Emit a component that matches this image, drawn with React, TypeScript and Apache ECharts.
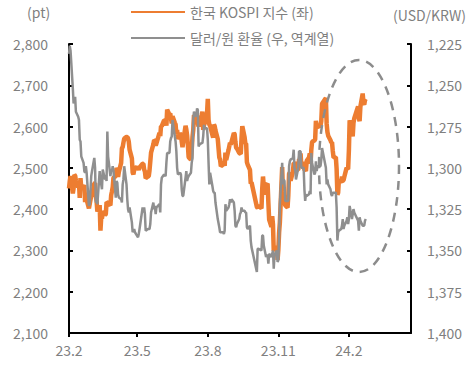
import React, { useEffect, useRef } from "react";
import * as echarts from "echarts";

// date, KOSPI (pt), USD/KRW
const dates: string[] = [
  "2023-02-01","2023-02-02","2023-02-03","2023-02-06","2023-02-07","2023-02-08","2023-02-09","2023-02-10","2023-02-13","2023-02-14",
  "2023-02-15","2023-02-16","2023-02-17","2023-02-20","2023-02-21","2023-02-22","2023-02-23","2023-02-24","2023-02-27","2023-02-28",
  "2023-03-02","2023-03-03","2023-03-06","2023-03-07","2023-03-08","2023-03-09","2023-03-10","2023-03-13","2023-03-14","2023-03-15",
  "2023-03-16","2023-03-17","2023-03-20","2023-03-21","2023-03-22","2023-03-23","2023-03-24","2023-03-27","2023-03-28","2023-03-29",
  "2023-03-30","2023-03-31","2023-04-03","2023-04-04","2023-04-05","2023-04-06","2023-04-07","2023-04-10","2023-04-11","2023-04-12",
  "2023-04-13","2023-04-14","2023-04-17","2023-04-18","2023-04-19","2023-04-20","2023-04-21","2023-04-24","2023-04-25","2023-04-26",
  "2023-04-27","2023-04-28","2023-05-02","2023-05-03","2023-05-04","2023-05-08","2023-05-09","2023-05-10","2023-05-11","2023-05-12",
  "2023-05-15","2023-05-16","2023-05-17","2023-05-18","2023-05-19","2023-05-22","2023-05-23","2023-05-24","2023-05-25","2023-05-26",
  "2023-05-30","2023-05-31","2023-06-01","2023-06-02","2023-06-05","2023-06-07","2023-06-08","2023-06-09","2023-06-12","2023-06-13",
  "2023-06-14","2023-06-15","2023-06-16","2023-06-19","2023-06-20","2023-06-21","2023-06-22","2023-06-23","2023-06-26","2023-06-27",
  "2023-06-28","2023-06-29","2023-06-30","2023-07-03","2023-07-04","2023-07-05","2023-07-06","2023-07-07","2023-07-10","2023-07-11",
  "2023-07-12","2023-07-13","2023-07-14","2023-07-17","2023-07-18","2023-07-19","2023-07-20","2023-07-21","2023-07-24","2023-07-25",
  "2023-07-26","2023-07-27","2023-07-28","2023-07-31","2023-08-01","2023-08-02","2023-08-03","2023-08-04","2023-08-07","2023-08-08",
  "2023-08-09","2023-08-10","2023-08-11","2023-08-14","2023-08-16","2023-08-17","2023-08-18","2023-08-21","2023-08-22","2023-08-23",
  "2023-08-24","2023-08-25","2023-08-28","2023-08-29","2023-08-30","2023-08-31","2023-09-01","2023-09-04","2023-09-05","2023-09-06",
  "2023-09-07","2023-09-08","2023-09-11","2023-09-12","2023-09-13","2023-09-14","2023-09-15","2023-09-18","2023-09-19","2023-09-20",
  "2023-09-21","2023-09-22","2023-09-25","2023-09-26","2023-09-27","2023-10-04","2023-10-05","2023-10-06","2023-10-10","2023-10-11",
  "2023-10-12","2023-10-13","2023-10-16","2023-10-17","2023-10-18","2023-10-19","2023-10-20","2023-10-23","2023-10-24","2023-10-25",
  "2023-10-26","2023-10-27","2023-10-30","2023-10-31","2023-11-01","2023-11-02","2023-11-03","2023-11-06","2023-11-07","2023-11-08",
  "2023-11-09","2023-11-10","2023-11-13","2023-11-14","2023-11-15","2023-11-16","2023-11-17","2023-11-20","2023-11-21","2023-11-22",
  "2023-11-23","2023-11-24","2023-11-27","2023-11-28","2023-11-29","2023-11-30","2023-12-01","2023-12-04","2023-12-05","2023-12-06",
  "2023-12-07","2023-12-08","2023-12-11","2023-12-12","2023-12-13","2023-12-14","2023-12-15","2023-12-18","2023-12-19","2023-12-20",
  "2023-12-21","2023-12-22","2023-12-26","2023-12-27","2023-12-28","2024-01-02","2024-01-03","2024-01-04","2024-01-05","2024-01-08",
  "2024-01-09","2024-01-10","2024-01-11","2024-01-12","2024-01-15","2024-01-16","2024-01-17","2024-01-18","2024-01-19","2024-01-22",
  "2024-01-23","2024-01-24","2024-01-25","2024-01-26","2024-01-29","2024-01-30","2024-01-31","2024-02-01","2024-02-02","2024-02-05",
  "2024-02-06","2024-02-07","2024-02-08","2024-02-13","2024-02-14","2024-02-15","2024-02-16","2024-02-19","2024-02-20","2024-02-21",
  "2024-02-22","2024-02-23",
];

const kospi: number[] = [
  2450,2468,2480,2438,2451,2483,2481,2469,2453,2465,
  2427,2475,2451,2455,2458,2417,2439,2423,2402,2412,
  2432,2432,2462,2463,2431,2419,2394,2410,2348,2379,
  2377,2395,2386,2388,2417,2416,2414,2409,2434,2443,
  2453,2476,2480,2500,2495,2478,2490,2512,2548,2550,
  2561,2571,2575,2575,2571,2563,2544,2523,2489,2484,
  2495,2501,2500,2495,2501,2510,2510,2496,2491,2475,
  2479,2480,2494,2515,2537,2557,2567,2566,2554,2559,
  2585,2577,2601,2601,2615,2615,2602,2641,2629,2632,
  2619,2608,2625,2609,2605,2582,2592,2570,2582,2581,
  2564,2550,2564,2602,2593,2579,2556,2526,2520,2542,
  2574,2591,2628,2619,2607,2608,2600,2609,2628,2636,
  2592,2603,2608,2632,2667,2616,2605,2602,2580,2573,
  2605,2601,2591,2570,2525,2520,2504,2508,2516,2505,
  2537,2519,2543,2552,2561,2556,2563,2584,2582,2563,
  2548,2547,2536,2535,2534,2572,2601,2574,2559,2559,
  2514,2508,2495,2462,2465,2405,2403,2408,2402,2450,
  2479,2456,2436,2460,2462,2415,2375,2357,2383,2363,
  2299,2302,2310,2277,2301,2343,2368,2502,2443,2421,
  2427,2409,2404,2433,2486,2488,2469,2491,2511,2511,
  2514,2496,2495,2521,2520,2535,2505,2514,2495,2495,
  2492,2517,2525,2535,2510,2544,2563,2566,2569,2614,
  2600,2599,2602,2613,2655,2669,2607,2587,2578,2567,
  2561,2562,2541,2525,2526,2497,2435,2440,2472,2464,
  2479,2469,2470,2478,2500,2498,2497,2542,2615,2591,
  2576,2609,2620,2649,2620,2613,2648,2680,2657,2653,
  2664,2667,
];

const usdkrw: number[] = [
  1231,1226,1229,1252,1261,1259,1257,1266,1269,1271,
  1283,1284,1293,1297,1302,1303,1299,1303,1323,1322,
  1305,1302,1294,1300,1321,1320,1322,1302,1308,1310,
  1313,1301,1307,1306,1308,1278,1293,1305,1301,1302,
  1299,1302,1318,1308,1309,1316,1318,1319,1321,1310,
  1307,1299,1310,1319,1325,1327,1324,1333,1339,1338,
  1337,1339,1342,1340,1337,1324,1327,1324,1328,1338,
  1337,1337,1337,1334,1327,1321,1325,1323,1328,1324,
  1322,1327,1310,1306,1304,1305,1297,1291,1291,1284,
  1282,1281,1271,1281,1284,1290,1300,1304,1303,1304,
  1313,1317,1317,1306,1302,1308,1306,1305,1303,1297,
  1294,1271,1266,1269,1264,1265,1287,1286,1285,1285,
  1281,1274,1276,1276,1283,1297,1310,1303,1311,1314,
  1315,1315,1321,1331,1336,1339,1339,1339,1340,1338,
  1322,1326,1324,1322,1319,1321,1319,1321,1326,1335,
  1336,1334,1331,1328,1327,1324,1326,1326,1327,1327,
  1336,1337,1335,1344,1348,1363,1349,1349,1350,1341,
  1341,1347,1354,1353,1353,1358,1352,1354,1352,1350,
  1361,1353,1350,1357,1356,1342,1322,1297,1310,1307,
  1308,1320,1320,1320,1299,1296,1295,1294,1289,1300,
  1301,1307,1300,1290,1290,1290,1300,1300,1313,1320,
  1316,1317,1316,1314,1316,1291,1297,1304,1303,1296,
  1302,1299,1299,1295,1288,1300,1310,1307,1310,1313,
  1316,1317,1315,1315,1315,1324,1344,1339,1338,1337,
  1335,1331,1337,1335,1332,1330,1334,1331,1323,1331,
  1328,1325,1327,1332,1338,1330,1332,1335,1335,1335,
  1332,1331,
];

const xTickDates: string[] = ["2023-02-01", "2023-05-01", "2023-08-01", "2023-11-01", "2024-02-01"];
const xRange: string[] = ["2023-02-01", "2024-04-22"];
const leftTicks = { min: 2100, max: 2800, interval: 100 };
const rightTicks = { min: 1225, max: 1400, interval: 25 };

const seriesNames = ["한국 KOSPI 지수 (좌)", "달러/원 환율 (우, 역계열)"];

const toTs = (s: string) => {
  const [y, m, d] = s.split("-").map(Number);
  return Date.UTC(y, m - 1, d);
};

export default function App() {
  const ref = useRef<HTMLDivElement>(null);
  useEffect(() => {
    if (!ref.current) return;
    const chart = echarts.init(ref.current, undefined, { renderer: "svg" });
    const font = "'Noto Sans CJK KR', 'Noto Sans', sans-serif";
    const labelColor = "#7f7f7f";
    const tickTs = xTickDates.map(toTs);
    const fmt = (v: number) => v.toLocaleString("en-US");
    chart.setOption({
      animation: false,
      backgroundColor: "#ffffff",
      textStyle: { fontFamily: font },
      grid: { left: 69, right: 63, top: 44, bottom: 45 },
      legend: {
        orient: "vertical",
        left: 125,
        top: 0,
        itemWidth: 54,
        itemHeight: 14,
        itemGap: 12,
        itemStyle: { opacity: 0 },
        textStyle: { color: labelColor, fontSize: 14, fontFamily: font },
        data: seriesNames,
      },
      xAxis: {
        type: "value",
        min: toTs(xRange[0]),
        max: toTs(xRange[1]),
        axisLine: { show: true, lineStyle: { color: "#000", width: 2 } },
        axisTick: { show: true, inside: false, length: 4, lineStyle: { color: "#000", width: 2 }, customValues: tickTs },
        axisLabel: {
          customValues: tickTs,
          color: labelColor,
          fontSize: 14,
          fontFamily: font,
          margin: 10,
          formatter: (v: number) => {
            const d = new Date(v);
            return `${String(d.getUTCFullYear()).slice(2)}.${d.getUTCMonth() + 1}`;
          },
        },
        splitLine: { show: false },
      },
      yAxis: [
        {
          type: "value",
          position: "left",
          min: leftTicks.min,
          max: leftTicks.max,
          interval: leftTicks.interval,
          axisLine: { show: true, lineStyle: { color: "#000", width: 2 } },
          axisTick: { show: true, inside: true, length: 4, lineStyle: { color: "#000", width: 2 } },
          axisLabel: { color: labelColor, fontSize: 14, fontFamily: font, margin: 21, formatter: fmt },
          splitLine: { show: false },
        },
        {
          type: "value",
          position: "right",
          inverse: true,
          min: rightTicks.min,
          max: rightTicks.max,
          interval: rightTicks.interval,
          axisLine: { show: true, lineStyle: { color: "#000", width: 2 } },
          axisTick: { show: true, inside: true, length: 4, lineStyle: { color: "#000", width: 2 } },
          axisLabel: { color: labelColor, fontSize: 14, fontFamily: font, margin: 16, formatter: fmt },
          splitLine: { show: false },
        },
      ],
      series: [
        {
          name: seriesNames[0],
          type: "line",
          yAxisIndex: 0,
          showSymbol: false,
          symbol: "none",
          color: "#ED7D31",
          lineStyle: { color: "#ED7D31", width: 4.5 },
          data: dates.map((d, i) => [toTs(d), kospi[i]]),
          z: 2,
        },
        {
          name: seriesNames[1],
          type: "line",
          yAxisIndex: 1,
          showSymbol: false,
          symbol: "none",
          color: "#8f8f8f",
          lineStyle: { color: "#8f8f8f", width: 2.5 },
          data: dates.map((d, i) => [toTs(d), usdkrw[i]]),
          z: 3,
        },
      ],
      graphic: [
        {
          type: "text",
          left: 27,
          top: 5,
          style: { text: "(pt)", fill: labelColor, fontSize: 14, fontFamily: font },
        },
        {
          type: "text",
          right: 8,
          top: 8,
          style: { text: "(USD/KRW)", fill: labelColor, fontSize: 14, fontFamily: font },
        },
        {
          type: "ellipse",
          shape: { cx: 359, cy: 166, rx: 40, ry: 106 },
          style: { fill: "none", stroke: "#8c8c8c", lineWidth: 2.5, lineDash: [9, 7] },
          z: 10,
        },
      ],
    });
    return () => chart.dispose();
  }, []);
  return <div ref={ref} style={{ position: "absolute", left: 0, top: 0, width: 474, height: 378 }} />;
}
